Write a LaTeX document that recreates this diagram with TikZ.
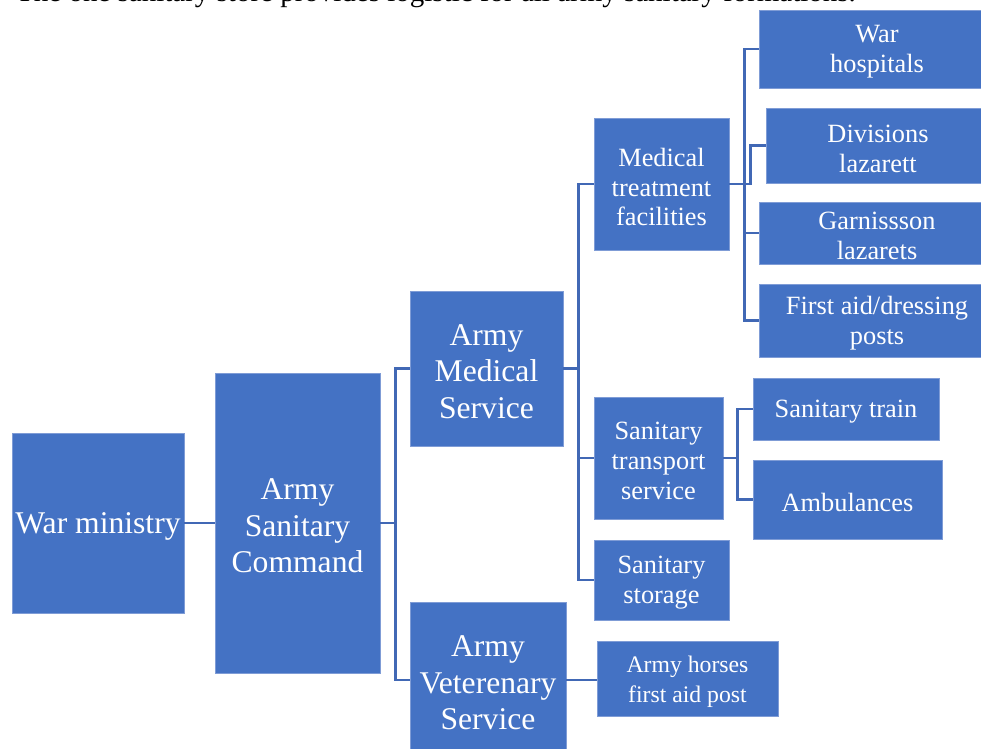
\documentclass[tikz,border=0pt]{standalone}
\usepackage{fontspec}
\setmainfont{Liberation Serif}
\usetikzlibrary{positioning, calc}
\definecolor{orgblue}{HTML}{4472C4}
\definecolor{orgedge}{HTML}{7F9CD6}
\definecolor{orgline}{HTML}{4168B5}
\newcommand{\orgbox}[6]{%
  \node[orgnode, minimum width=#4*0.02cm, minimum height=#5*0.02cm] (#1) at (#2,#3) {};
  \node[orgtext] (#1-t) at ($(#1.center)+(0,3)$) {#6};}

\begin{document}
\begin{tikzpicture}[x=0.02cm, y=-0.02cm,
    orgnode/.style={draw=orgedge, line width=0.5pt, fill=orgblue, inner sep=0pt},
    orgtext/.style={text=white, align=center, inner sep=0pt},
    bigtext/.style={font=\fontsize{18}{20.8}\selectfont},
    midtext/.style={font=\fontsize{15}{17}\selectfont},
    smalltext/.style={font=\fontsize{13.5}{17}\selectfont},
    link/.style={orgline, line width=1.4pt}]
      \useasboundingbox (0,0) rectangle (981,749);
      \node[anchor=base west, font=\fontsize{16.5}{19}\selectfont] (note) at (10,2)
        {The one sanitary store provides logistic for all army sanitary formations.};
      % first two levels
      \begin{scope}[bigtext]
      \orgbox{wm}{98}{523}{172}{180}{War ministry}
      \orgbox{asc}{297.5}{523}{165}{300}{Army\\Sanitary\\Command}
      \orgbox{ams}{486.5}{368.5}{153}{155}{Army\\Medical\\Service}
      \orgbox{avs}{488}{680}{156}{156}{Army\\Veterenary\\Service}
      \end{scope}
      % services
      \begin{scope}[midtext]
      \orgbox{mtf}{661.5}{184}{135}{132}{Medical\\treatment\\facilities}
      \orgbox{sts}{658.5}{458}{129}{122}{Sanitary\\transport\\service}
      \orgbox{sst}{661.5}{580}{135}{80}{Sanitary\\storage}
      \orgbox{wh}{877}{49}{236}{78}{War\\hospitals}
      \orgbox{dl}{878}{145.5}{224}{75}{Divisions\\lazarett}
      \orgbox{gl}{877}{233}{236}{62}{Garnissson\\lazarets}
      \orgbox{fa}{877}{320.5}{236}{73}{First aid/dressing\\posts}
      \orgbox{st}{846}{409}{186}{62}{Sanitary train}
      \orgbox{amb}{847.5}{499.5}{189}{79}{Ambulances}
      \end{scope}
      \begin{scope}[smalltext]
      \orgbox{horses}{687.5}{679}{181}{75}{Army horses\\first aid post}
      \end{scope}
      % connectors
      \draw[link] (wm) -- (asc);
      \draw[link] (asc.east) -- ++(15,0) coordinate (j1) |- (ams.west);
      \draw[link] (j1) |- (avs.west);
      \draw[link] (ams.east) -- ++(15,0) coordinate (j2) |- (mtf.west);
      \draw[link] (j2) |- (sts.west);
      \draw[link] (j2) |- (sst.west);
      \draw[link] (mtf.east) -- ++(15,0) coordinate (j3) |- (wh.west);
      \draw[link] (j3) |- (gl.west);
      \draw[link] (j3) |- (fa.west);
      \draw[link] (mtf.east) -- ++(21,0) |- (dl.west);
      \draw[link] (sts.east) -- ++(14,0) coordinate (j4) |- (st.west);
      \draw[link] (j4) |- (amb.west);
      \draw[link] (avs.east) -- (avs.east -| horses.west);
    \end{tikzpicture}
\end{document}
